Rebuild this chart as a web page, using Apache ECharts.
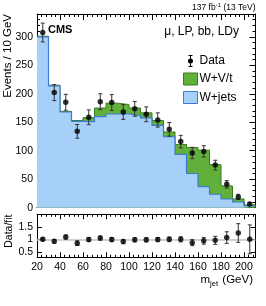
<!DOCTYPE html>
<html>
<head>
<meta charset="utf-8">
<script src="https://cdn.jsdelivr.net/npm/echarts@6/dist/echarts.min.js"></script>
<style>
html,body{margin:0;padding:0;background:#fff;}
#chart{width:266px;height:306px;}
</style>
</head>
<body>
<div id="chart"></div>
<script>
// ---- data ----
const binEdges = [20,30,40,50,60,70,80,90,100,110,120,130,140,150,160,170,180,190,200,210];
const wjets = [300,214,168,151.5,151,160,164.5,164.5,161.5,157.5,144.5,124.5,93.5,60,37,23.6,15.3,10,3];
const wvt   = [1,1,1,1.5,7,15,19,16.5,13.5,9,8.5,8.5,17.5,45.5,64,52,23,5.3,1.8];
const dataVals = [307.5,202,185,134,158.7,186,184.5,168,173.5,164,154,137.5,116,96,98.8,74.8,41,19,6.5];
const dataErrs = [16.5,14,14,12,13,14,14,13,13,13,12.5,12,11,10,10,8.5,6.5,4.5,2.5];
const ratioVals = [1.01,0.93,1.10,0.86,1.0,1.06,1.0,0.92,0.99,0.99,1.0,1.01,1.01,0.88,0.95,0.97,1.08,1.26,1.01];
const ratioErrs = [0.06,0.07,0.08,0.09,0.08,0.08,0.08,0.08,0.08,0.08,0.08,0.09,0.10,0.12,0.13,0.16,0.23,0.37,0.57];
const ratioTicks = [0.5,1,1.5];

// ---- build series data ----
const FONT = 'Liberation Sans, Arial, Helvetica, sans-serif';
const nb = wjets.length;
const centers = [], totals = [];
for (let i = 0; i < nb; i++) { centers.push((binEdges[i] + binEdges[i+1]) / 2); totals.push(wjets[i] + wvt[i]); }
function stepData(vals) {
  const out = [];
  for (let i = 0; i < vals.length; i++) out.push([binEdges[i], vals[i]]);
  out.push([binEdges[vals.length], vals[vals.length-1]]);
  return out;
}
const pts = centers.map((c,i) => [c, dataVals[i], dataErrs[i]]);
const rpts = centers.map((c,i) => [c, ratioVals[i], ratioErrs[i]]);

function errRender(params, api) {
  const x = api.value(0), y = api.value(1), e = api.value(2);
  const lo = api.coord([x, y - e]), hi = api.coord([x, y + e]);
  const cs = params.coordSys;
  const clipY = (v) => Math.max(cs.y, Math.min(cs.y + cs.height, v));
  const yl = clipY(lo[1]), yh = clipY(hi[1]);
  const st = {stroke:'#333', lineWidth:1, fill:null};
  const ch = [{type:'line', shape:{x1:lo[0], y1:yl, x2:hi[0], y2:yh}, style:st}];
  if (yh === hi[1]) ch.push({type:'line', shape:{x1:hi[0]-2, y1:hi[1], x2:hi[0]+2, y2:hi[1]}, style:st});
  if (yl === lo[1]) ch.push({type:'line', shape:{x1:lo[0]-2, y1:lo[1], x2:lo[0]+2, y2:lo[1]}, style:st});
  return {type:'group', children: ch};
}

const axLine = {show:true, onZero:false, lineStyle:{color:'#000', width:1}};
function xAx(grid, pos, labels, tl) {
  return {
    gridIndex:grid, type:'value', min:20, max:210, interval:20, position:pos,
    axisLine:axLine, splitLine:{show:false},
    axisTick:{show:true, inside:true, length:tl, lineStyle:{color:'#000'}},
    minorTick:{show:true, splitNumber:5, length:tl/2, lineStyle:{color:'#000'}},
    axisLabel:{show:labels, showMaxLabel:false, fontSize:10.5, color:'#000', margin:4, fontFamily:FONT}
  };
}
const chart = echarts.init(document.getElementById('chart'), null, {renderer:'canvas'});
const option = {
  animation:false,
  backgroundColor:'#fff',
  grid:[
    {left:37, right:10.5, top:14, height:193.7},
    {left:37, right:10.5, top:214.3, height:43}
  ],
  xAxis:[ xAx(0,'bottom',false,6), xAx(0,'top',false,6), xAx(1,'bottom',true,5), xAx(1,'top',false,5) ],
  yAxis:[
    {gridIndex:0, type:'value', min:0, max:340, interval:50, position:'left',
     axisLine:axLine, splitLine:{show:false},
     axisTick:{show:true, inside:true, length:6, lineStyle:{color:'#000'}},
     minorTick:{show:true, splitNumber:5, length:3, lineStyle:{color:'#000'}},
     axisLabel:{show:true, showMaxLabel:false, fontSize:10.5, color:'#000', margin:4, fontFamily:FONT}},
    {gridIndex:0, type:'value', min:0, max:340, interval:50, position:'right',
     axisLine:axLine, splitLine:{show:false},
     axisTick:{show:true, inside:true, length:6, lineStyle:{color:'#000'}},
     minorTick:{show:true, splitNumber:5, length:3, lineStyle:{color:'#000'}},
     axisLabel:{show:false}},
    {gridIndex:1, type:'value', min:0.3, max:2.0, position:'left',
     axisLine:axLine, splitLine:{show:false},
     axisTick:{show:true, inside:true, length:5, customValues:ratioTicks, lineStyle:{color:'#000'}},
     axisLabel:{show:true, customValues:ratioTicks, fontSize:10.5, color:'#000', margin:4, fontFamily:FONT}},
    {gridIndex:1, type:'value', min:0.3, max:2.0, position:'right',
     axisLine:axLine, splitLine:{show:false},
     axisTick:{show:true, inside:true, length:5, customValues:ratioTicks, lineStyle:{color:'#000'}},
     axisLabel:{show:false}}
  ],
  legend:{
    orient:'vertical', left:178, top:50, itemWidth:14, itemHeight:12, itemGap:5.5,
    textStyle:{fontSize:12, color:'#000', fontFamily:FONT, padding:[0,0,0,-3]},
    symbolKeepAspect:true,
    data:[
      {name:'Data', icon:'path://M6.5,0h1v3.6h-1z M6.5,8.4h1v3.6h-1z M5,0h4v1h-4z M5,11h4v1h-4z M4.5,6a2.5,2.5 0 1,0 5,0a2.5,2.5 0 1,0 -5,0z',
       itemStyle:{color:'#000', borderWidth:0}},
      {name:'W+V/t', icon:'rect', itemStyle:{color:'#62b03c', borderColor:'#3b7a1f', borderWidth:1}},
      {name:'W+jets', icon:'rect', itemStyle:{color:'#a7d0f8', borderColor:'#3b7bd4', borderWidth:1}}
    ]
  },
  series:[
    {name:'W+V/t', type:'line', xAxisIndex:0, yAxisIndex:0, step:'end', symbol:'none',
     data:stepData(totals), lineStyle:{color:'#3b7a1f', width:1}, areaStyle:{color:'#62b03c', opacity:1}, z:2},
    {name:'W+jets', type:'line', xAxisIndex:0, yAxisIndex:0, step:'end', symbol:'none',
     data:stepData(wjets), lineStyle:{color:'#3b7bd4', width:1.2}, areaStyle:{color:'#a7d0f8', opacity:1}, z:3},
    {name:'Data', type:'custom', xAxisIndex:0, yAxisIndex:0, renderItem:errRender, data:pts, z:4,
     encode:{x:0, y:1}},
    {name:'Data', type:'scatter', xAxisIndex:0, yAxisIndex:0, data:pts.map(p=>[p[0],p[1]]),
     symbolSize:5.5, itemStyle:{color:'#000'}, z:5},
    {name:'ratioErr', type:'custom', xAxisIndex:2, yAxisIndex:2, renderItem:errRender, data:rpts, z:4,
     encode:{x:0, y:1}},
    {name:'ratio', type:'scatter', xAxisIndex:2, yAxisIndex:2, data:rpts.map(p=>[p[0],p[1]]),
     symbolSize:5.5, itemStyle:{color:'#000'}, z:5,
     markLine:{silent:true, symbol:'none', label:{show:false}, z:1,
       lineStyle:{color:'#c0c0c0', type:'solid', width:1.5}, data:[{yAxis:1}]}}
  ],
  graphic:[
    {type:'text', x:8, y:14, rotation:Math.PI/2,
     style:{text:'Events / 10 GeV', font:'11.5px '+FONT, fill:'#000', align:'right', verticalAlign:'middle'}},
    {type:'text', x:9.5, y:214.5, rotation:Math.PI/2,
     style:{text:'Data/fit', font:'10.5px '+FONT, fill:'#000', align:'right', verticalAlign:'middle'}},
    {type:'text', x:253, y:280,
     style:{text:'{m|m}{s|jet} {m|(GeV)}', align:'right', verticalAlign:'middle', fill:'#000',
       rich:{m:{fontSize:11.5, fontFamily:FONT, color:'#000'}, s:{fontSize:7.5, fontFamily:FONT, color:'#000', padding:[7,1,0,0]}}}},
    {type:'text', x:48, y:29.5,
     style:{text:'CMS', font:'bold 11px '+FONT, fill:'#000', align:'left', verticalAlign:'middle'}},
    {type:'text', x:239, y:32,
     style:{text:'μ, LP, bb, LDy', font:'12px '+FONT, fill:'#000', align:'right', verticalAlign:'middle'}},
    {type:'text', x:255.5, y:8,
     style:{text:'{n|137 fb}{u|-1}{n| (13 TeV)}', align:'right', verticalAlign:'middle', fill:'#000',
       rich:{n:{fontSize:8.5, fontFamily:FONT, color:'#000'}, u:{fontSize:6, fontFamily:FONT, color:'#000', padding:[0,0,5,0]}}}}
  ]
};
chart.setOption(option);
</script>
</body>
</html>
